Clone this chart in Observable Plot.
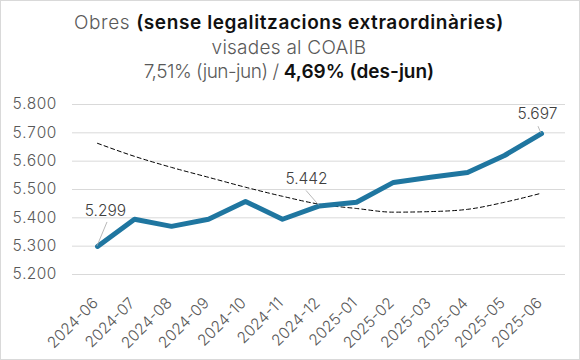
<!DOCTYPE html>
<html><head><meta charset="utf-8">
<script src="https://cdn.jsdelivr.net/npm/d3@7"></script>
<script src="https://cdn.jsdelivr.net/npm/@observablehq/plot@0.6"></script>
<style>
body{margin:0;background:#fff;}
#wrap{position:relative;width:580px;height:360px;overflow:hidden;font-family:Inter, "Open Sans", sans-serif;background:#fff}
#frame{position:absolute;left:0;top:0;width:580px;height:360px;box-sizing:border-box;border:1px solid #d9d9d9;pointer-events:none}
#title{position:absolute;top:0;left:0;width:578px;height:88px;text-align:center;font-size:19px;line-height:24.5px;padding-top:11px;box-sizing:border-box;white-space:nowrap}
.l{font-weight:300;color:#595959}
.b{font-weight:600;color:#111}
.t1{letter-spacing:0.6px}
.t2{letter-spacing:0.25px}
.t3 .l{letter-spacing:-0.5px}
.t3 .b{letter-spacing:0px}
#chart{position:absolute;top:88px;left:0}
</style></head>
<body>
<div id="wrap">
  <div id="title">
    <div class="t1"><span class="l">Obres</span> <span class="b">(sense legalitzacions extraordinàries)</span></div>
    <div class="t2"><span class="l">visades al COAIB</span></div>
    <div class="t3"><span class="l">7,51% (jun-jun) /</span> <span class="b">4,69% (des-jun)</span></div>
  </div>
  <div id="chart"></div>
  <div id="frame"></div>
</div>
<script>
const months = ["2024-06","2024-07","2024-08","2024-09","2024-10","2024-11","2024-12","2025-01","2025-02","2025-03","2025-04","2025-05","2025-06"];
const obres = [5299,5395,5370,5395,5458,5395,5442,5455,5525,5543,5560,5620,5697];
const tendencia = [5663,5617,5578,5543,5508,5476,5448,5433,5420,5422,5430,5455,5487];
const yTicks = [5200,5300,5400,5500,5600,5700,5800];
const labelledMonths = ["2024-06","2024-12","2025-06"];

const fmt = v => d3.format(",.0f")(v).replace(/,/g, ".");
const main = months.map((m,i) => ({month:m, value:obres[i]}));
const trend = months.map((m,i) => ({month:m, value:tendencia[i]}));

// label offsets (pixels): label centre and leader end
const ann = {
  "2024-06": {dx:8, dy:-35, lx:10, ly:-24},
  "2024-12": {dx:-13, dy:-27, lx:-13, ly:-15},
  "2025-06": {dx:-4, dy:-20, lx:-3, ly:-7}
};

const leaders = (index, scales) => {
  const g = d3.create("svg:g").attr("stroke", "#a6a6a6").attr("stroke-width", 0.8);
  for (const d of main) {
    if (!labelledMonths.includes(d.month)) continue;
    const x = scales.x(d.month), y = scales.y(d.value), a = ann[d.month];
    g.append("line").attr("x1", x).attr("y1", y).attr("x2", x + a.lx).attr("y2", y + a.ly);
  }
  return g.node();
};

const textMarks = labelledMonths.map(m => Plot.text(main.filter(d => d.month === m), {
  x: "month", y: "value", text: d => fmt(d.value), dx: ann[m].dx, dy: ann[m].dy,
  fill: "#404040", fontSize: 15.5, fontWeight: 300
}));

const chart = Plot.plot({
  width: 580,
  height: 272,
  marginLeft: 72,
  marginRight: 15,
  marginTop: 16,
  marginBottom: 86,
  style: {fontFamily: "Inter, 'Open Sans', sans-serif", fontSize: "15.5px", color: "#595959", fontWeight: 300, background: "transparent"},
  x: {type: "point", domain: months, padding: 0.5, label: null},
  y: {domain: [5200, 5800], ticks: yTicks, tickFormat: fmt, tickSize: 0, tickPadding: 16, label: null},
  marks: [
    Plot.ruleY(yTicks, {stroke: "#d9d9d9", strokeWidth: 1}),
    Plot.axisX({tickSize: 0, tickRotate: -45, tickPadding: 26, dx: -2, label: null}),
    Plot.line(trend, {x: "month", y: "value", stroke: "#000", strokeWidth: 1, strokeDasharray: "4,3", curve: "monotone-x"}),
    Plot.line(main, {x: "month", y: "value", stroke: "#1f76a0", strokeWidth: 5, strokeLinejoin: "round", strokeLinecap: "round"}),
    leaders,
    ...textMarks
  ]
});
document.getElementById("chart").appendChild(chart);
</script>
</body></html>
